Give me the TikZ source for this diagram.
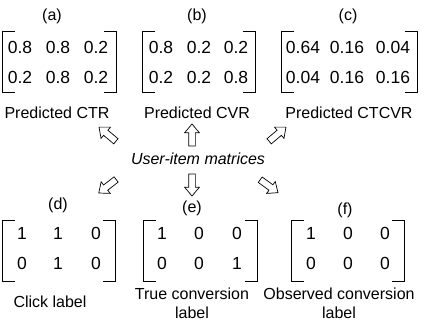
\documentclass[tikz,border=0pt]{standalone}
\usepackage{fontspec}
\setmainfont{Liberation Sans}
\usetikzlibrary{shapes.arrows}
\begin{document}
\begin{tikzpicture}[x=1pt,y=-1pt,
  lbl/.style={font=\fontsize{16}{19}\selectfont, inner sep=0pt, align=center},
  num/.style={font=\fontsize{17.5}{20}\selectfont, inner sep=0pt},
  matbox/.style={inner sep=0pt, minimum width=#1, minimum height=60pt},
  brk/.style={line width=1pt},
  blk/.style={single arrow, draw, line width=0.7pt, inner xsep=0pt, inner ysep=3pt,
    minimum height=22pt, single arrow head extend=4pt, single arrow tip angle=80}
]
\useasboundingbox (0,0) rectangle (445,327);

% ---------- top matrices ----------
\node[matbox=113pt] (ma) at (59.5,62) {};
\node[matbox=112pt] (mb) at (199,62) {};
\node[matbox=135pt] (mc) at (349.5,62) {};
\node[matbox=112pt] (md) at (59,251) {};
\node[matbox=113pt] (me) at (200.5,251) {};
\node[matbox=112pt] (mf) at (348,251) {};

\foreach \m in {ma,mb,mc,md,me,mf}{
  \draw[brk] ([xshift=12pt]\m.north west) -- (\m.north west) -- (\m.south west) -- ([xshift=12pt]\m.south west);
  \draw[brk] ([xshift=-12pt]\m.north east) -- (\m.north east) -- (\m.south east) -- ([xshift=-12pt]\m.south east);
}

% titles
\node[lbl] (ta) at (52,16) {(a)};
\node[lbl] (tb) at (197,16) {(b)};
\node[lbl] (tc) at (348,16) {(c)};
\node[lbl] (td) at (58,205) {(d)};
\node[lbl] (te) at (192,208) {(e)};
\node[lbl] (tf) at (345,210) {(f)};

% entries a
\node[num] (a11) at (20,47) {0.8};
\node[num] (a12) at (58,47) {0.8};
\node[num] (a13) at (96,47) {0.2};
\node[num] (a21) at (20,77) {0.2};
\node[num] (a22) at (58,77) {0.8};
\node[num] (a23) at (96,77) {0.2};
% entries b
\node[num] (b11) at (161,47) {0.8};
\node[num] (b12) at (199,47) {0.2};
\node[num] (b13) at (236,47) {0.2};
\node[num] (b21) at (161,77) {0.2};
\node[num] (b22) at (199,77) {0.2};
\node[num] (b23) at (236,77) {0.8};
% entries c
\node[num] (c11) at (303,47) {0.64};
\node[num] (c12) at (347,47) {0.16};
\node[num] (c13) at (393,47) {0.04};
\node[num] (c21) at (303,77) {0.04};
\node[num] (c22) at (347,77) {0.16};
\node[num] (c23) at (393,77) {0.16};
% entries d
\node[num] (d11) at (22,233) {1};
\node[num] (d12) at (58,233) {1};
\node[num] (d13) at (96,233) {0};
\node[num] (d21) at (22,263) {0};
\node[num] (d22) at (58,263) {1};
\node[num] (d23) at (96,263) {0};
% entries e
\node[num] (e11) at (162,233) {1};
\node[num] (e12) at (199,233) {0};
\node[num] (e13) at (237,233) {0};
\node[num] (e21) at (162,263) {0};
\node[num] (e22) at (199,263) {0};
\node[num] (e23) at (237,263) {1};
% entries f
\node[num] (f11) at (311,233) {1};
\node[num] (f12) at (348,233) {0};
\node[num] (f13) at (385,233) {0};
\node[num] (f21) at (311,263) {0};
\node[num] (f22) at (348,263) {0};
\node[num] (f23) at (385,263) {0};

% captions
\node[lbl] (la) at (57,113) {Predicted CTR};
\node[lbl] (lb) at (197,113) {Predicted CVR};
\node[lbl] (lc) at (349,113) {Predicted CTCVR};
\node[lbl] (ld) at (50,302) {Click label};
\node[lbl] (le) at (192,303.5) {True conversion\\label};
\node[lbl] (lf) at (339,303.5) {Observed conversion\\label};

% centre text
\node[lbl, font=\fontsize{16}{19}\selectfont\itshape] (um) at (198,159) {User-item matrices};

% block arrows
\node[blk, rotate=140] (aul) at (109,135.5) {};
\node[blk, rotate=90] (aup) at (192,137) {};
\node[blk, rotate=40] (aur) at (276,135.5) {};
\node[blk, rotate=218] (adl) at (109,185) {};
\node[blk, rotate=270] (adn) at (192,183) {};
\node[blk, rotate=-36] (adr) at (267.5,185) {};
\end{tikzpicture}
\end{document}
